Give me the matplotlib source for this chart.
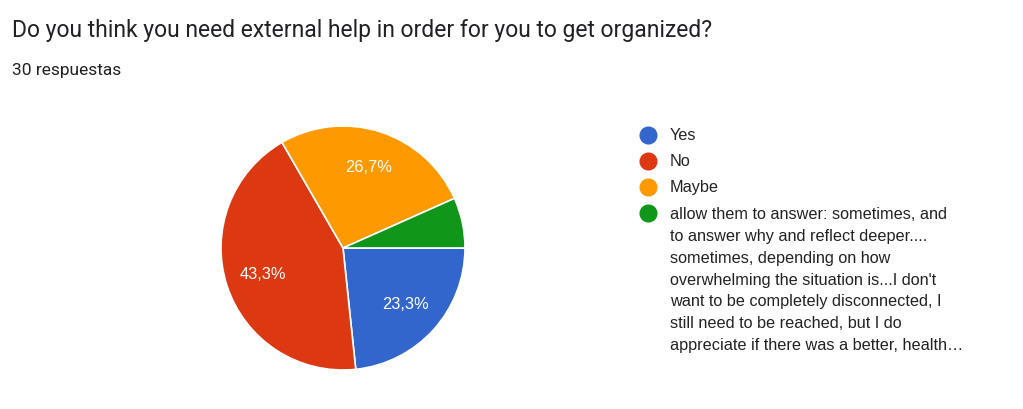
import matplotlib
matplotlib.use("Agg")
import matplotlib.pyplot as plt
from matplotlib.lines import Line2D

title = "Do you think you need external help in order for you to get organized?"
subtitle = "30 respuestas"
labels = ["Yes", "No", "Maybe",
          "allow them to answer: sometimes, and\nto answer why and reflect deeper....\nsometimes, depending on how\noverwhelming the situation is...I don't\nwant to be completely disconnected, I\nstill need to be reached, but I do\nappreciate if there was a better, health\u2026"]
counts = [7, 13, 8, 2]
colors = ["#3366cc", "#dc3912", "#ff9900", "#109618"]

W, H = 1023, 409
fig = plt.figure(figsize=(W / 100, H / 100), dpi=100)
fig.patch.set_facecolor("white")

def fx(px):
    return px / W

def fy(py):
    return 1 - py / H

# Pie axes
cx, cy, r = 343, 248, 122
ax = fig.add_axes([fx(cx - r), fy(cy + r), 2 * r / W, 2 * r / H])

def fmt(p):
    if p < 10:
        return ""
    return f"{p:.1f}%".replace(".", ",")

wedges, texts, autotexts = ax.pie(
    counts, colors=colors, startangle=0, counterclock=False,
    autopct=fmt, pctdistance=0.69, radius=1,
    wedgeprops=dict(edgecolor="white", linewidth=1.2),
    textprops=dict(color="white", fontsize=11.8, family="Liberation Sans"))
ax.set_xlim(-1, 1)
ax.set_ylim(-1, 1)
ax.set_aspect("auto")
for w in wedges:
    w.set_clip_on(False)
ax.axis("off")

# Title and subtitle
fig.text(fx(12), fy(31), title, fontsize=16.45, family="Roboto",
         color="#202124", va="center", ha="left")
fig.text(fx(12), fy(70), subtitle, fontsize=12.5, family="Roboto",
         color="#202124", va="center", ha="left")

# Legend
row_y = [135, 161, 187, 213]
for lab, col, y in zip(labels, colors, row_y):
    fig.add_artist(Line2D([fx(648)], [fy(y)], marker="o", markersize=12,
                          color=col, transform=fig.transFigure, linestyle="none"))
    if "\n" in lab:
        fig.text(fx(670), fy(y - 6), lab, fontsize=11.7, family="Liberation Sans",
                 color="#222222", va="top", ha="left", linespacing=1.57)
    else:
        fig.text(fx(670), fy(y), lab, fontsize=11.7, family="Liberation Sans",
                 color="#222222", va="center", ha="left")

fig.savefig("out.png", dpi=100, facecolor="white")
